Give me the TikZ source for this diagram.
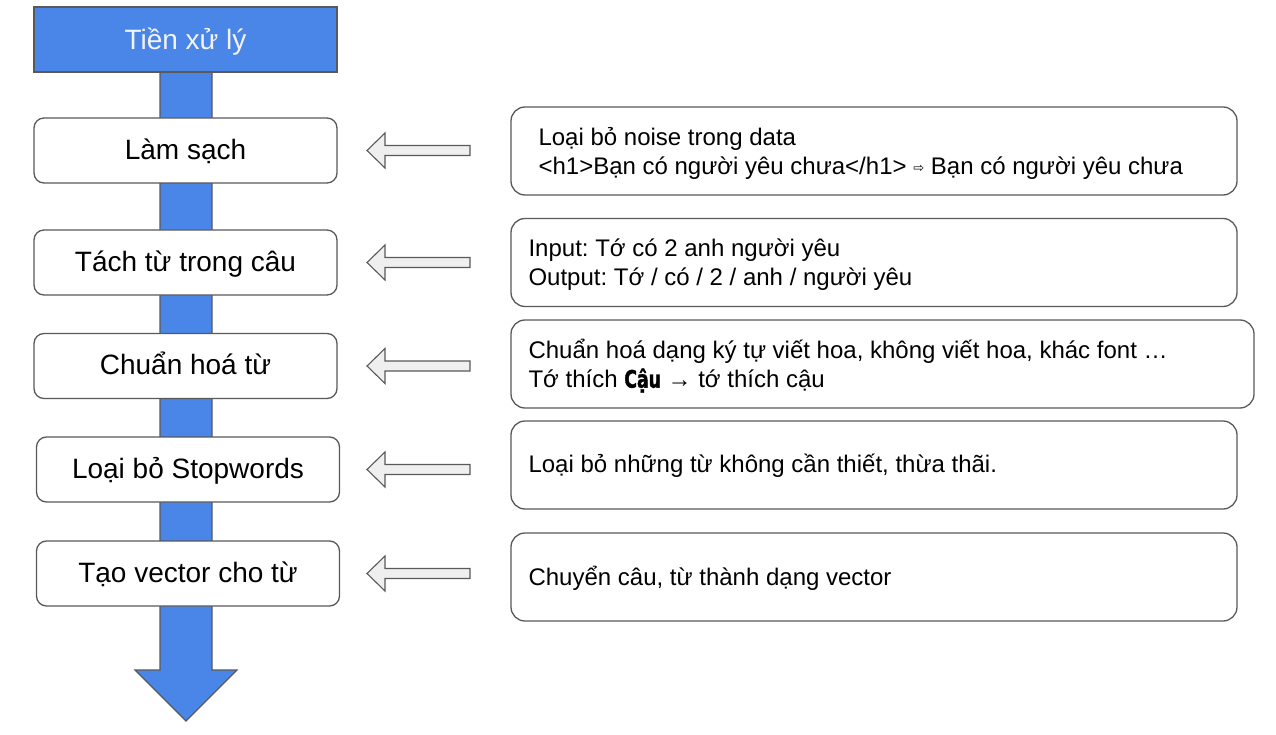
\documentclass[tikz,border=0pt]{standalone}
\usepackage{fontspec}
\setmainfont{Liberation Sans}
\newfontfamily\dvfont{DejaVu Sans}
\newfontfamily\caufont[FakeStretch=0.72,FakeBold=1.5]{DejaVu Sans}
\usetikzlibrary{calc}
\frenchspacing
\definecolor{gblue}{HTML}{4A86E8}
\definecolor{edgegray}{HTML}{595959}
\definecolor{hollowfill}{HTML}{EFEFEF}
\definecolor{toptext}{HTML}{F3F3F3}
\tikzset{
  topbox/.style={draw=edgegray, fill=gblue, line width=1.2pt, minimum width=303pt, minimum height=65pt,
    inner sep=0pt, text=toptext, text height=20pt, text depth=0pt, font=\fontsize{28}{33}\selectfont},
  stepbox/.style={draw=edgegray, fill=white, line width=1.3pt, rounded corners=10pt, minimum width=303pt,
    minimum height=65pt, inner sep=0pt, text height=20pt, text depth=2.5pt, font=\fontsize{28}{33}\selectfont},
  descbox/.style={draw=edgegray, fill=white, line width=1.3pt, rounded corners=14pt, minimum height=88pt, inner sep=0pt},
  desctext/.style={anchor=west, align=left, inner sep=0pt, font=\fontsize{24}{29}\selectfont},
  harrow/.style={draw=edgegray, fill=hollowfill, line width=1.1pt, line join=miter},
  downarrow/.style={draw=edgegray, fill=gblue, line width=1.2pt, line join=miter}
}
\begin{document}
\begin{tikzpicture}[x=1pt,y=-1pt]
\useasboundingbox (0,0) rectangle (1276,735);
% main down arrow (behind)
\draw[downarrow] (160,60) -- (160,670) -- (135,670) -- (186,721) -- (237,670) -- (212,670) -- (212,60) -- cycle;
% top box
\node[topbox] (t) at (185.5,39.5) {Tiền xử lý};
% left step boxes
\node[stepbox] (l1) at (185.5,150.5) {Làm sạch};
\node[stepbox] (l2) at (185.5,262.5) {Tách từ trong câu};
\node[stepbox] (l3) at (185.5,366) {Chuẩn hoá từ};
\node[stepbox] (l4) at (188,469.5) {Loại bỏ Stopwords};
\node[stepbox] (l5) at (188,573.5) {Tạo vector cho từ};
% right description boxes
\node[descbox, minimum width=726pt] (r1) at (874,151) {};
\node[descbox, minimum width=726pt] (r2) at (874,262.5) {};
\node[descbox, minimum width=743pt] (r3) at (882.5,364) {};
\node[descbox, minimum width=726pt] (r4) at (874,465) {};
\node[descbox, minimum width=726pt] (r5) at (874,577) {};
\node[desctext] (r1t) at ([xshift=28pt,yshift=-2pt]r1.west) {Loại bỏ noise trong data\\<h1>Bạn có người yêu chưa</h1> \raisebox{1.5pt}{\dvfont\fontsize{13}{13}\selectfont ⇨} Bạn có người yêu chưa};
\node[desctext] (r2t) at ([xshift=18pt,yshift=-2pt]r2.west) {Input: Tớ có 2 anh người yêu\\Output: Tớ / có / 2 / anh / người yêu};
\node[desctext] (r3t) at ([xshift=18pt,yshift=-2pt]r3.west) {Chuẩn hoá dạng ký tự viết hoa, không viết hoa, khác font …\\Tớ thích {\caufont\bfseries Cậu} → tớ thích cậu};
\node[desctext] (r4t) at ([xshift=18pt,yshift=-1pt]r4.west) {Loại bỏ những từ không cần thiết, thừa thãi.};
\node[desctext] (r5t) at ([xshift=18pt,yshift=-1pt]r5.west) {Chuyển câu, từ thành dạng vector};
% hollow arrows
\foreach \k in {1,...,5}{
  \draw[harrow] let \p1=(l\k.east) in
    (470pt,\y1+5pt) -- (385pt,\y1+5pt) -- (385pt,\y1+17.5pt) -- (367pt,\y1) --
    (385pt,\y1-17.5pt) -- (385pt,\y1-5pt) -- (470pt,\y1-5pt) -- cycle;
}
\end{tikzpicture}
\end{document}
